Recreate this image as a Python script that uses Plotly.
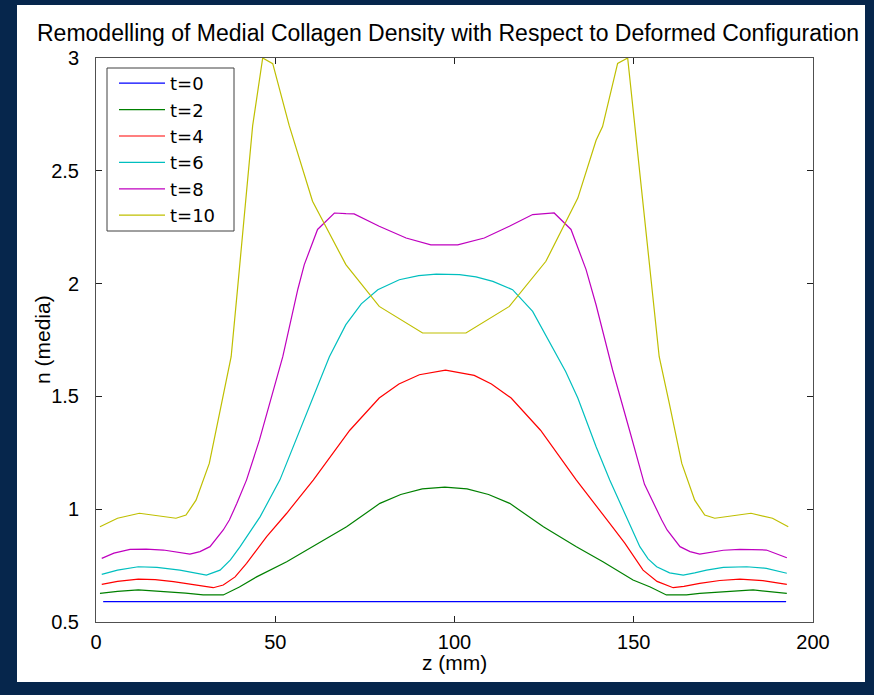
import plotly.graph_objects as go

# ---------------- data ----------------
labels = ["t=0", "t=2", "t=4", "t=6", "t=8", "t=10"]
colors = ["#0000ff", "#008000", "#ff0000", "#00bfbf", "#bf00bf", "#bfbf00"]

z_t0 = [2.0, 192.5]
n_t0 = [0.59, 0.59]

z_t2 = [1.1, 6, 11.8, 19.7, 25, 29.9, 35.5, 40, 44.8, 53.2, 60.6, 69.9, 79.2, 85, 91, 97.3,
        103.5, 109.5, 115.4, 124.8, 134, 141.4, 149.8, 154.6, 159.1, 164.7, 168.4, 174.9, 183.3, 192.7]
n_t2 = [0.627, 0.636, 0.642, 0.634, 0.628, 0.620, 0.620, 0.655, 0.700, 0.767, 0.834, 0.922, 1.026, 1.065, 1.090, 1.098,
        1.090, 1.065, 1.026, 0.922, 0.834, 0.767, 0.686, 0.655, 0.620, 0.620, 0.627, 0.634, 0.642, 0.627]

z_t4 = [1.6, 6, 11.8, 16.5, 21.6, 27, 32.7, 35.5, 38.8, 42, 47.6, 53.2, 60.6, 70.8, 79.0, 84.5, 90.2, 97.5,
        105.5, 110.3, 115.8, 124, 134, 143.3, 147.5, 152.6, 156.5, 161, 164, 168.4, 174, 179.6, 186, 192.7]
n_t4 = [0.667, 0.680, 0.690, 0.688, 0.679, 0.665, 0.652, 0.664, 0.700, 0.760, 0.878, 0.982, 1.129, 1.350, 1.493, 1.555, 1.596, 1.616,
        1.593, 1.555, 1.493, 1.350, 1.129, 0.937, 0.850, 0.730, 0.680, 0.652, 0.658, 0.671, 0.684, 0.690, 0.683, 0.667]

z_t6 = [1.6, 6, 11.8, 17, 23.4, 27, 30.8, 34.6, 37.5, 40.2, 45.8, 51.3, 55.8, 60.5, 65.1, 69.7, 74, 78.6, 84.6, 90, 94.9,
        101.4, 106, 110.7, 116.2, 121.8, 127.4, 131, 134.4, 139.5, 143.3, 148.3, 151.7, 154, 156.4, 160, 163.8, 167, 170.3,
        175, 181.5, 187, 192.7]
n_t6 = [0.711, 0.730, 0.745, 0.742, 0.730, 0.720, 0.708, 0.730, 0.775, 0.834, 0.967, 1.130, 1.307, 1.490, 1.676, 1.818, 1.910, 1.973, 2.017, 2.035, 2.042,
        2.040, 2.030, 2.010, 1.973, 1.877, 1.715, 1.610, 1.493, 1.277, 1.129, 0.952, 0.834, 0.780, 0.745, 0.718, 0.708, 0.718, 0.730,
        0.742, 0.745, 0.738, 0.716]

z_t8 = [1.6, 5, 9.5, 14, 18.8, 22.5, 26.2, 29, 31.8, 35.5, 37.2, 39.3, 42, 45.6, 48.8, 52.1, 56.3, 58.1, 61.8, 66.5, 69.7, 72,
        79, 86.5, 93.4, 100.9, 108.3, 115.3, 121.8, 127.8, 132.5, 136.7, 139.5, 144.1, 148.8, 153, 157.8, 159.3, 162.9, 165.7,
        168.4, 172, 175, 179.6, 187, 192.7]
n_t8 = [0.782, 0.805, 0.822, 0.823, 0.819, 0.810, 0.801, 0.812, 0.834, 0.908, 0.952, 1.026, 1.130, 1.307, 1.490, 1.676, 1.975, 2.084, 2.240, 2.313, 2.310, 2.309,
        2.254, 2.202, 2.172, 2.172, 2.202, 2.254, 2.306, 2.313, 2.240, 2.062, 1.905, 1.617, 1.351, 1.110, 0.952, 0.908, 0.834, 0.812,
        0.801, 0.810, 0.818, 0.822, 0.819, 0.785]

z_t10 = [1.1, 6, 12.1, 17, 22.3, 25.1, 27.9, 31.6, 35.3, 37.7, 39.5, 43.7, 46.5, 49.3, 53.9, 60.4, 69.7, 79.0, 91.1,
         103.2, 115.3, 125.5, 134.4, 139.5, 141.3, 145.5, 148.3, 155.0, 157.1, 159.9, 163.4, 167, 169.8, 172.6, 177.9,
         182.7, 188.7, 193.1]
n_t10 = [0.922, 0.960, 0.982, 0.972, 0.960, 0.974, 1.040, 1.203, 1.499, 1.676, 1.980, 2.700, 3.000, 2.975, 2.700, 2.365, 2.084, 1.899, 1.781,
         1.781, 1.899, 2.099, 2.379, 2.635, 2.696, 2.976, 3.000, 1.980, 1.676, 1.470, 1.203, 1.040, 0.974, 0.960, 0.972,
         0.982, 0.960, 0.922]

x_ticks = [0, 50, 100, 150, 200]
y_ticks = [0.5, 1, 1.5, 2, 2.5, 3]
y_tick_text = ["0.5", "1", "1.5", "2", "2.5", "3"]

title_text = "Remodelling of Medial Collagen Density with Respect to Deformed Configuration"
x_title = "z (mm)"
y_title = "n (media)"

series_z = [z_t0, z_t2, z_t4, z_t6, z_t8, z_t10]
series_n = [n_t0, n_t2, n_t4, n_t6, n_t8, n_t10]

# ---------------- figure ----------------
W, H = 874, 695
L, R, T, B = 96, 61, 58, 73
pw, ph = W - L - R, H - T - B

def px_to_paper_x(px):
    return (px - L) / pw

def px_to_paper_y(py):
    return (H - B - py) / ph

FONT = "Liberation Sans, Arial, Helvetica, sans-serif"
LEG_FONT = "DejaVu Sans, Liberation Sans, sans-serif"

fig = go.Figure()
for lab, col, zz, nn in zip(labels, colors, series_z, series_n):
    fig.add_trace(go.Scatter(x=zz, y=nn, mode="lines", name=lab,
                             line=dict(color=col, width=1.2)))

fig.update_layout(
    width=W, height=H,
    margin=dict(l=L, r=R, t=T, b=B, pad=0),
    paper_bgcolor="#06264c",
    plot_bgcolor="#ffffff",
    font=dict(family=FONT, size=20, color="#000000"),
    title=dict(text=title_text, font=dict(size=23, color="#000000", family=FONT),
               x=px_to_paper_x(448), xref="paper", xanchor="center",
               y=1 - 33 / H, yref="container", yanchor="middle"),
    showlegend=True,
    legend=dict(x=px_to_paper_x(114), y=px_to_paper_y(65), xanchor="left", yanchor="top",
                bgcolor="rgba(0,0,0,0)", borderwidth=0,
                font=dict(size=18, family=LEG_FONT, color="#000000"),
                tracegroupgap=0, itemwidth=46),
    xaxis=dict(range=[0, 200], tickvals=x_ticks, ticks="inside", ticklen=6, tickcolor="#202020",
               showline=True, linecolor="#505050", linewidth=1, mirror="allticks",
               showgrid=False, zeroline=False, ticklabelstandoff=2,
               tickfont=dict(size=20, family=FONT, color="#000000")),
    yaxis=dict(range=[0.5, 3], tickvals=y_ticks, ticktext=y_tick_text, ticks="inside", ticklen=6,
               tickcolor="#202020",
               showline=True, linecolor="#505050", linewidth=1, mirror="allticks",
               showgrid=False, zeroline=False, ticklabelstandoff=12,
               tickfont=dict(size=20, family=FONT, color="#000000")),
    shapes=[
        dict(type="rect", xref="paper", yref="paper",
             x0=px_to_paper_x(17), x1=px_to_paper_x(865),
             y0=px_to_paper_y(682), y1=px_to_paper_y(5),
             fillcolor="#ffffff", line=dict(width=0), layer="below"),
        # legend box frame
        dict(type="rect", xref="paper", yref="paper",
             x0=px_to_paper_x(107), x1=px_to_paper_x(234),
             y0=px_to_paper_y(231), y1=px_to_paper_y(68),
             fillcolor="#ffffff", line=dict(width=1, color="#404040"), layer="above"),
    ],
    annotations=[
        dict(text=x_title, xref="paper", yref="paper", x=0.5, y=px_to_paper_y(662),
             xanchor="center", yanchor="middle", showarrow=False,
             font=dict(size=21, family=FONT, color="#000000")),
        dict(text=y_title, xref="paper", yref="paper", x=px_to_paper_x(42), y=0.5,
             xanchor="center", yanchor="middle", showarrow=False, textangle=-90,
             font=dict(size=21, family=FONT, color="#000000")),
    ],
)

fig.write_html("out.html")
